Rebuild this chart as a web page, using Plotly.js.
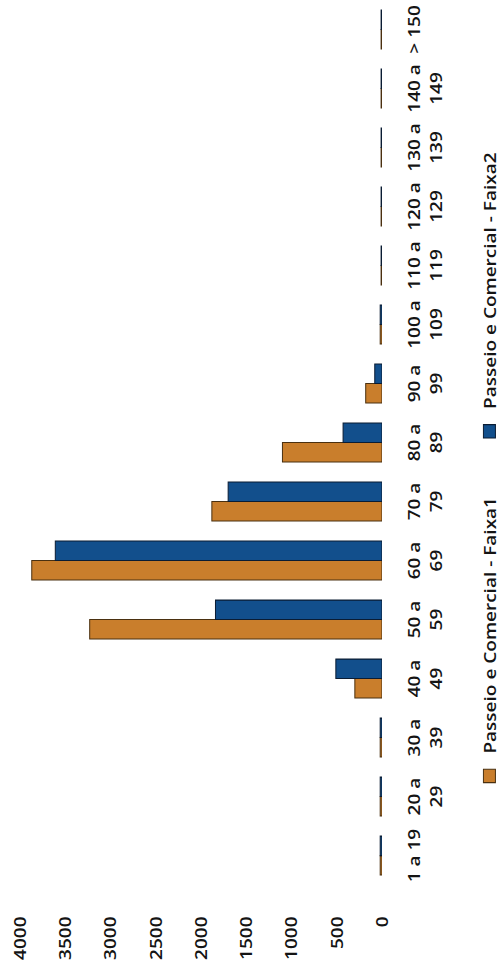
<!DOCTYPE html>
<html><head><meta charset="utf-8">
<script src="https://cdn.plot.ly/plotly-3.0.1.min.js"></script>
<style>
html,body{margin:0;padding:0;background:#fff;overflow:hidden;width:503px;height:969px;}
#wrap{position:absolute;left:0;top:0;width:866px;height:540px;transform-origin:0 0;transform:translate(0px,969px) rotate(-90deg) scale(1.119,1);}
</style></head><body>
<div id="wrap"></div>
<script>
const categories = ['1 a 19','20 a<br>29','30 a<br>39','40 a<br>49','50 a<br>59','60 a<br>69','70 a<br>79','80 a<br>89','90 a<br>99','100 a<br>109','110 a<br>119','120 a<br>129','130 a<br>139','140 a<br>149','> 150'];
const faixa1 = [20,20,20,300,3230,3870,1880,1100,180,20,10,10,10,10,10];
const faixa2 = [20,20,20,510,1840,3610,1700,430,80,20,10,10,10,10,10];
const valueTicks = [0,500,1000,1500,2000,2500,3000,3500,4000];
const seriesNames = ['Passeio e Comercial - Faixa1','Passeio e Comercial - Faixa2'];

const FONT = '"Open Sans", "Noto Sans", sans-serif';
const TXT = {family:FONT, size:17, color:'#141414', weight:600};
const data = [
  {type:'bar', x:categories, y:faixa1, name:seriesNames[0],
   marker:{color:'#C97E2C', line:{color:'#4a3010', width:1}}},
  {type:'bar', x:categories, y:faixa2, name:seriesNames[1],
   marker:{color:'#124F8C', line:{color:'#0a1c33', width:1}}}
];
const layout = {
  width:866, height:540,
  margin:{l:75, r:0, t:20, b:158},
  paper_bgcolor:'#fff', plot_bgcolor:'#fff',
  barmode:'group', bargap:0.34, bargroupgap:0,
  font:TXT,
  xaxis:{type:'category', showgrid:false, zeroline:false, showline:false, ticks:'',
         tickangle:0, tickfont:TXT, ticklabelstandoff:20, automargin:false},
  yaxis:{range:[0,4000], tickvals:valueTicks, ticktext:valueTicks.map(String),
         showgrid:false, zeroline:false, showline:false, ticks:'',
         tickfont:TXT, ticklabelstandoff:27, automargin:false},
  showlegend:true,
  legend:{orientation:'h', x:0.098, xanchor:'left', y:-0.298, yanchor:'middle',
          traceorder:'normal', font:TXT,
          entrywidth:263, entrywidthmode:'pixels', bgcolor:'rgba(0,0,0,0)'}
};
Plotly.newPlot('wrap', data, layout, {staticPlot:true, displayModeBar:false});
</script>
</body></html>
